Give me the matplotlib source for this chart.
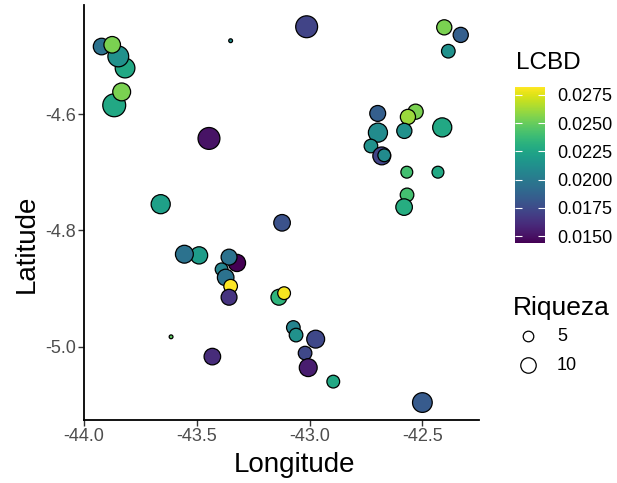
import numpy as np
import matplotlib
matplotlib.use('Agg')
from matplotlib import pyplot as plt

plt.rcParams['font.family'] = ['Liberation Sans', 'DejaVu Sans']

# sitios: longitud, latitud, riqueza y LCBD
longitud = [-43.922, -43.818, -43.848, -43.875, -43.866, -43.833, -43.350, -43.446,
            -43.660, -43.013, -42.403, -42.330, -42.385, -42.698, -42.530, -42.564,
            -42.697, -42.580, -42.412, -42.728, -42.680, -42.669, -42.569, -42.431,
            -42.568, -42.581, -43.490, -43.555, -43.322, -43.357, -43.390, -43.372,
            -43.350, -43.357, -43.614, -43.431, -43.122, -43.136, -43.113, -43.072,
            -43.060, -42.973, -43.020, -43.006, -42.895, -42.500]
latitud = [-4.484, -4.521, -4.501, -4.481, -4.585, -4.562, -4.474, -4.642,
           -4.755, -4.450, -4.451, -4.464, -4.492, -4.599, -4.596, -4.605,
           -4.632, -4.629, -4.623, -4.655, -4.672, -4.671, -4.700, -4.700,
           -4.739, -4.760, -4.843, -4.841, -4.856, -4.846, -4.867, -4.881,
           -4.896, -4.915, -4.983, -5.017, -4.787, -4.915, -4.908, -4.967,
           -4.980, -4.987, -5.011, -5.036, -5.060, -5.096]
riqueza = [13, 18, 20, 13, 24, 15, 1, 22,
           17, 22, 11, 11, 9, 12, 11, 11,
           17, 11, 17, 9, 15, 8, 7, 7,
           9, 13, 14, 15, 14, 12, 8, 13,
           9, 12, 1, 13, 13, 12, 8, 9,
           9, 15, 9, 15, 8, 18]
lcbd = [0.0196, 0.0227, 0.0213, 0.0254, 0.0227, 0.0254, 0.0213, 0.0151,
        0.0222, 0.0172, 0.0254, 0.0185, 0.0213, 0.0185, 0.0254, 0.0261,
        0.0210, 0.0213, 0.0227, 0.0213, 0.0172, 0.0210, 0.0241, 0.0227,
        0.0241, 0.0230, 0.0220, 0.0196, 0.0144, 0.0196, 0.0206, 0.0196,
        0.0282, 0.0165, 0.0248, 0.0161, 0.0179, 0.0234, 0.0280, 0.0206,
        0.0213, 0.0174, 0.0174, 0.0155, 0.0227, 0.0183]

cb_ticks = [0.0150, 0.0175, 0.0200, 0.0225, 0.0250, 0.0275]
size_breaks = [5, 10]


def tam(v):
    # area proporcional a la riqueza (diametro en px -> puntos^2)
    d = 4.9 * np.sqrt(np.asarray(v, dtype=float)) - 1.1
    return (d / (100 / 72)) ** 2


W, H = 617, 483
fig = plt.figure(figsize=(W / 100, H / 100), dpi=100)
ax = fig.add_axes([84 / W, 1 - 420 / H, 395 / W, 415 / H])

sc = ax.scatter(longitud, latitud, s=tam(riqueza), c=lcbd, cmap='viridis',
                edgecolors='black', linewidths=0.9, zorder=3)

ax.set_xlim(-44.0, -42.249)
ax.set_ylim(-5.126, -4.4126)
ax.set_xticks([-44.0, -43.5, -43.0, -42.5])
ax.set_xticklabels(['-44.0', '-43.5', '-43.0', '-42.5'])
ax.set_yticks([-5.0, -4.8, -4.6])
ax.set_yticklabels(['-5.0', '-4.8', '-4.6'])

for lado in ['top', 'right']:
    ax.spines[lado].set_visible(False)
for lado in ['left', 'bottom']:
    ax.spines[lado].set_linewidth(1.3)
    ax.spines[lado].set_color('black')
ax.tick_params(direction='out', length=4, width=1.0, color='#333333',
               labelsize=13, labelcolor='#4d4d4d', pad=2)

ax.set_xlabel('Longitude', fontsize=20)
ax.set_ylabel('Latitude', fontsize=20)
ax.xaxis.set_label_coords((295 - 84) / 395, -(465 - 420) / 415)
ax.yaxis.set_label_coords(-(84 - 27) / 395, (420 - 244) / 415)
ax.xaxis.label.set_va('center')
ax.yaxis.label.set_va('center')

# leyenda de color
cax = fig.add_axes([515 / W, 1 - 243 / H, 30 / W, 156 / H])
cb = fig.colorbar(sc, cax=cax, ticks=cb_ticks)
cb.outline.set_visible(False)
cb.ax.set_yticklabels(['%.4f' % t for t in cb_ticks])
cax.tick_params(direction='in', length=5, width=0.8, color='white',
                left=True, right=True, labelsize=13, labelcolor='black', pad=8.5)
fig.text(516 / W, 1 - 63 / H, 'LCBD', fontsize=17.5, va='center', ha='left')

# leyenda de tamano
fig.text(513 / W, 1 - 308 / H, 'Riqueza', fontsize=19, va='center', ha='left')
handles = [ax.scatter([], [], s=tam(b) * 1.15, facecolors='white', edgecolors='black',
                      linewidths=0.9) for b in size_breaks]
leg = fig.legend(handles, [str(b) for b in size_breaks],
                 loc='upper left', bbox_to_anchor=(510 / W, 1 - 328 / H),
                 frameon=False, fontsize=13, borderpad=0,
                 labelspacing=0.65, handletextpad=0.6, borderaxespad=0)

fig.savefig('out.png', dpi=100)
